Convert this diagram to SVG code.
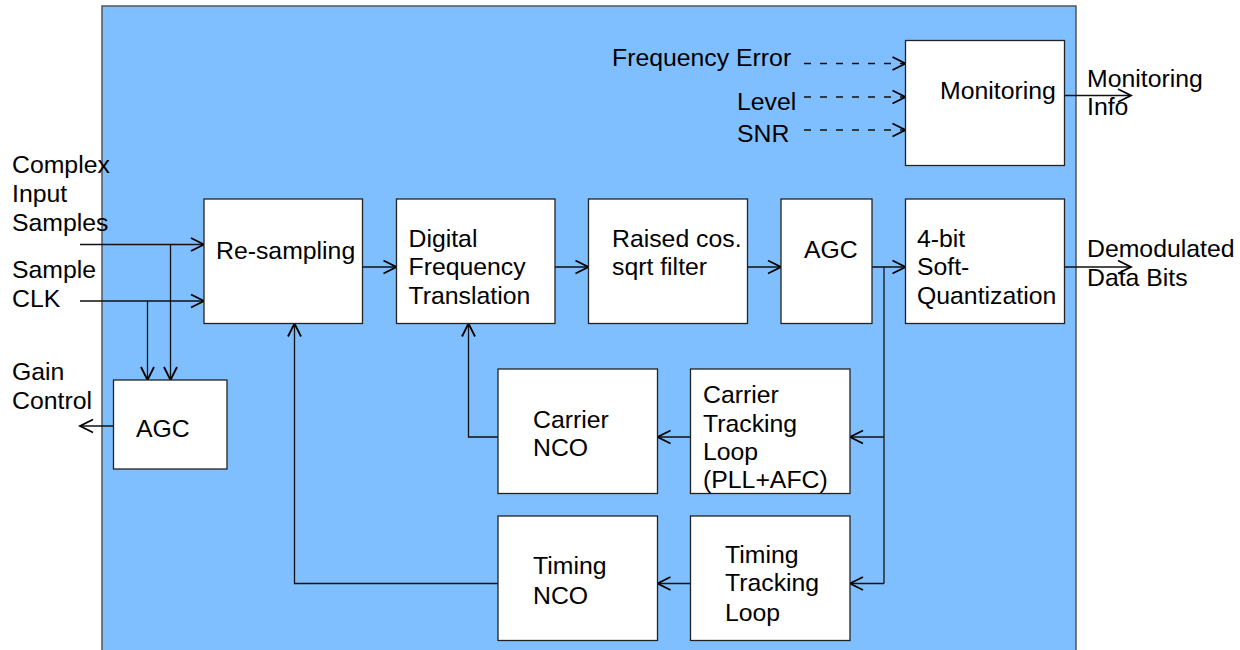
<svg xmlns="http://www.w3.org/2000/svg" width="1240" height="650" viewBox="0 0 1240 650">
<style>
text{font-family:"Liberation Sans",Arial,sans-serif;font-size:24.8px;fill:#000}
.box{fill:#fff;stroke:#222;stroke-width:1.3}
.ln{fill:none;stroke:#111;stroke-width:1.3}
.ar{marker-end:url(#arr)}
.dash{stroke-dasharray:7 9}
</style>
<defs>
<marker id="arr" viewBox="-14 -8 16 16" markerWidth="16" markerHeight="16" refX="0" refY="0" orient="auto" markerUnits="userSpaceOnUse">
<path d="M-13,-6.5 L0,0 L-13,6.5" fill="none" stroke="#000" stroke-width="1.8"/>
</marker>
</defs>
<rect x="102" y="6" width="974" height="660" fill="#80bfff" stroke="#555" stroke-width="1.5"/>
<g id="labels">
<text x="12" y="173">Complex</text>
<text x="12" y="202">Input</text>
<text x="12" y="231">Samples</text>
<text x="12" y="278">Sample</text>
<text x="12" y="307">CLK</text>
<text x="12" y="380">Gain</text>
<text x="12" y="409">Control</text>
<text x="612" y="66">Frequency Error</text>
<text x="737" y="110">Level</text>
<text x="737" y="142">SNR</text>
<text x="1087" y="87">Monitoring</text>
<text x="1087" y="115">Info</text>
<text x="1087" y="257">Demodulated</text>
<text x="1087" y="286">Data Bits</text>
</g>
<g id="connectors">
<path class="ln ar" d="M80,244.5 H204"/>
<path class="ln ar" d="M80,301 H204"/>
<path class="ln ar" d="M170.5,244.5 V380"/>
<path class="ln ar" d="M147.5,301 V380"/>
<path class="ln ar" d="M113.5,426 H80"/>
<path class="ln ar" d="M362.5,267 H396.5"/>
<path class="ln ar" d="M555,267 H588.5"/>
<path class="ln ar" d="M747.5,267 H781"/>
<path class="ln ar" d="M872,267 H905.5"/>
<path class="ln ar" d="M1064.5,267 H1131"/>
<path class="ln ar" d="M1064.5,95.5 H1131"/>
<path class="ln" d="M884,267 V583.5"/>
<path class="ln ar" d="M884,437 H850"/>
<path class="ln ar" d="M884,583.5 H850"/>
<path class="ln ar" d="M690.5,437 H657.5"/>
<path class="ln ar" d="M690.5,583.5 H657.5"/>
<path class="ln ar" d="M498,437 H468.5 V323.5"/>
<path class="ln ar" d="M498,583.5 H294.5 V323.5"/>
<path class="ln ar dash" d="M804,63.5 H905.5"/>
<path class="ln ar dash" d="M804,97 H905.5"/>
<path class="ln ar dash" d="M804,130 H905.5"/>
</g>
<g id="resampling"><rect class="box" x="204" y="199" width="158.5" height="124.5"/><text x="216" y="259">Re-sampling</text></g>
<g id="dft"><rect class="box" x="396.5" y="199" width="158.5" height="124.5"/><text x="408.5" y="247">Digital</text><text x="408.5" y="275">Frequency</text><text x="408.5" y="303.5">Translation</text></g>
<g id="rcos"><rect class="box" x="588.5" y="199" width="159" height="124.5"/><text x="612" y="247">Raised cos.</text><text x="612" y="275">sqrt filter</text></g>
<g id="agc2"><rect class="box" x="781" y="199" width="91" height="124.5"/><text x="804" y="258">AGC</text></g>
<g id="quant"><rect class="box" x="905.5" y="199" width="159" height="124.5"/><text x="917" y="247">4-bit</text><text x="917" y="275">Soft-</text><text x="917" y="303.5">Quantization</text></g>
<g id="monitoring"><rect class="box" x="905.5" y="40.5" width="159" height="125"/><text x="940" y="98.5">Monitoring</text></g>
<g id="agc1"><rect class="box" x="113.5" y="380" width="113.5" height="89"/><text x="136" y="437">AGC</text></g>
<g id="carrier-nco"><rect class="box" x="498" y="369" width="159.5" height="124.5"/><text x="533" y="427.5">Carrier</text><text x="533" y="456">NCO</text></g>
<g id="carrier-loop"><rect class="box" x="690.5" y="369" width="159.5" height="124.5"/><text x="703" y="403">Carrier</text><text x="703" y="431.5">Tracking</text><text x="703" y="460">Loop</text><text x="703" y="488">(PLL+AFC)</text></g>
<g id="timing-nco"><rect class="box" x="498" y="516" width="159.5" height="124.5"/><text x="533" y="574">Timing</text><text x="533" y="603.5">NCO</text></g>
<g id="timing-loop"><rect class="box" x="690.5" y="516" width="159.5" height="124.5"/><text x="725" y="563">Timing</text><text x="725" y="591">Tracking</text><text x="725" y="620.5">Loop</text></g>
</svg>
